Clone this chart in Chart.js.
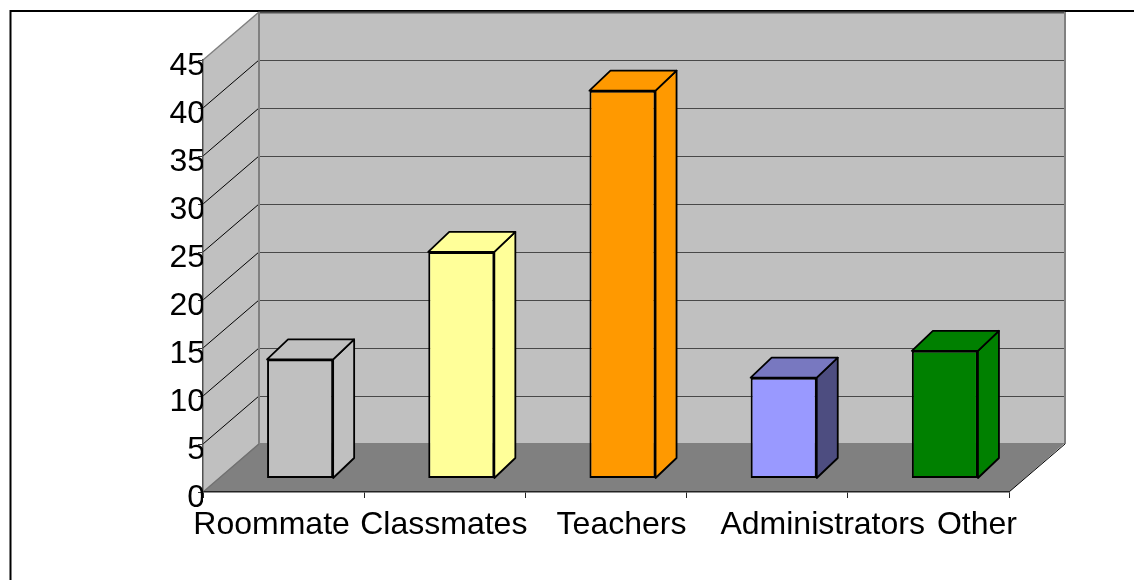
<!DOCTYPE html>
<html>
<head>
<meta charset="utf-8">
<style>html,body{margin:0;padding:0;background:#fff}canvas{display:block}</style>
<script src="https://cdn.jsdelivr.net/npm/chart.js@4/dist/chart.umd.min.js"></script>
</head>
<body>
<canvas id="c" width="1134" height="580"></canvas>
<script>
const categories = ['Roommate', 'Classmates', 'Teachers', 'Administrators', 'Other'];
const values = [12.4, 23.6, 40.4, 10.5, 13.3];
const frontColors = ['#C0C0C0', '#FFFF99', '#FF9900', '#9999FF', '#008000'];
const topColors = ['#C0C0C0', '#FFFF99', '#FF9900', '#7878C0', '#008000'];
const sideColors = ['#C0C0C0', '#FFFF99', '#FF9900', '#4D4D80', '#008000'];
const labelNudges = [-12, -1, 15.5, 55.5, 48.5];

const WALL_DX = 56, WALL_DY = 48;
const BAR_DX = 16.5, BAR_DY = 13.5;
const BAR_DEPTH_X = 21, BAR_DEPTH_Y = 20;

function poly(ctx, pts, fill, stroke, lw) {
  ctx.beginPath();
  pts.forEach((p, i) => i ? ctx.lineTo(p[0], p[1]) : ctx.moveTo(p[0], p[1]));
  ctx.closePath();
  if (fill) { ctx.fillStyle = fill; ctx.fill(); }
  if (stroke) { ctx.strokeStyle = stroke; ctx.lineWidth = lw || 1; ctx.lineJoin = 'round'; ctx.stroke(); }
}
function line(ctx, x1, y1, x2, y2, color, lw) {
  ctx.beginPath(); ctx.moveTo(x1, y1); ctx.lineTo(x2, y2);
  ctx.strokeStyle = color; ctx.lineWidth = lw; ctx.stroke();
}

const box3d = {
  id: 'box3d',
  beforeDraw(chart) {
    const { ctx, chartArea: a, scales: { x, y } } = chart;
    const L = a.left, R = a.right, T = a.top, B = a.bottom;
    const bx = L + WALL_DX, rx = R + WALL_DX, by = B - WALL_DY, ty = T - WALL_DY;
    ctx.save();
    // outer frame (top and left only are visible)
    line(ctx, 10, 11, chart.width, 11, '#000', 2);
    line(ctx, 10.5, 10, 10.5, chart.height, '#000', 2);
    // back wall, side wall, floor
    poly(ctx, [[bx, ty], [rx, ty], [rx, by], [bx, by]], '#C0C0C0');
    poly(ctx, [[L, T], [bx, ty], [bx, by], [L, B]], '#C0C0C0');
    poly(ctx, [[L, B], [bx, by - 1], [rx, by - 1], [R, B]], '#808080');
    // gridlines
    y.ticks.forEach(t => {
      const py = y.getPixelForValue(t.value);
      if (t.value > 0 && t.value < 45) {
        line(ctx, bx, py - WALL_DY + 0.5, rx, py - WALL_DY + 0.5, '#484848', 1);
        line(ctx, L, py, bx, py - WALL_DY, '#000', 1);
      }
    });
    line(ctx, bx, ty + 0.5, rx, ty + 0.5, '#505050', 2);
    line(ctx, L, T, bx, ty, '#808080', 1.5);
    line(ctx, bx, ty, bx, by, '#808080', 2);
    line(ctx, rx, ty, rx, by, '#808080', 2);
    line(ctx, L, B, bx, by, '#707070', 1.2);
    line(ctx, R, B, rx, by, '#000', 1);
    ctx.restore();

    // nudge the library's own tick labels to where the reference puts them
    x.getLabelItems(a).forEach((item, i) => { item.options.translation[0] += labelNudges[i]; item.options.translation[1] += 1; });
    y.getLabelItems(a).forEach(item => { item.options.translation[0] += 2; item.options.translation[1] += 6; });
  },
  beforeDatasetDraw(chart, args) {
    const { ctx } = chart;
    const bars = chart.getDatasetMeta(args.index).data;
    ctx.save();
    ctx.translate(BAR_DX, -BAR_DY);
    bars.forEach((el, i) => {
      const p = el.getProps(['x', 'y', 'base', 'width'], true);
      const l = p.x - p.width / 2, r = p.x + p.width / 2;
      const d = [BAR_DEPTH_X, -BAR_DEPTH_Y];
      poly(ctx, [[r, p.y], [r + d[0], p.y + d[1]], [r + d[0], p.base + d[1]], [r, p.base]], sideColors[i], '#000', 1.8);
      poly(ctx, [[l, p.y], [l + d[0], p.y + d[1]], [r + d[0], p.y + d[1]], [r, p.y]], topColors[i], '#000', 1.8);
    });
    ctx.restore();
    ctx.save();
    ctx.translate(BAR_DX, -BAR_DY);
  },
  afterDatasetDraw(chart) { chart.ctx.restore(); }
};

new Chart(document.getElementById('c'), {
  type: 'bar',
  data: {
    labels: categories,
    datasets: [{
      data: values,
      backgroundColor: frontColors,
      borderColor: '#000',
      borderWidth: 2,
      borderSkipped: false,
      barPercentage: 0.41,
      categoryPercentage: 1,
      clip: false
    }]
  },
  plugins: [box3d],
  options: {
    responsive: false,
    animation: false,
    devicePixelRatio: 1,
    layout: { padding: { left: 0, right: 125, top: 60, bottom: 0 } },
    plugins: { legend: { display: false }, tooltip: { enabled: false }, title: { display: false } },
    scales: {
      x: {
        afterFit(s) { s.height = 88; },
        grid: { drawOnChartArea: false, drawTicks: true, tickLength: 6, color: '#222', lineWidth: 1 },
        border: { display: true, color: '#222', width: 1.5 },
        ticks: {
          autoSkip: false, maxRotation: 0, minRotation: 0, padding: 7, color: '#000',
          font: { family: '"Liberation Sans", Arial, sans-serif', size: 32 }
        }
      },
      y: {
        min: 0, max: 45,
        afterFit(s) { s.width = 203; },
        grid: { drawOnChartArea: false, drawTicks: true, tickLength: 5, color: '#333', lineWidth: 1 },
        border: { display: true, color: '#505050', width: 1.5 },
        ticks: {
          stepSize: 5, padding: -5, color: '#000',
          font: { family: '"Liberation Sans", Arial, sans-serif', size: 32 }
        }
      }
    }
  }
});
</script>
</body>
</html>
